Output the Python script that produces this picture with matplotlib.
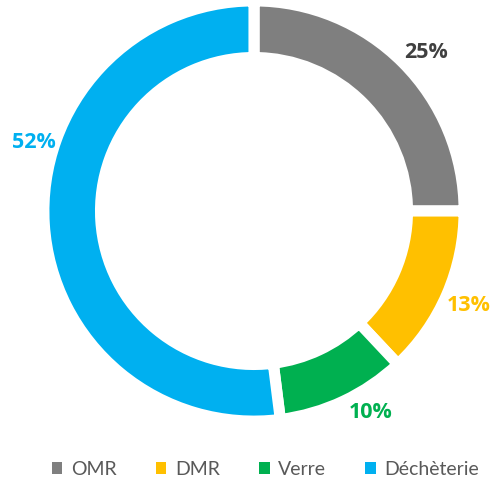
import numpy as np
import matplotlib.pyplot as plt
from matplotlib.patches import Patch

categories = ['OMR', 'DMR', 'Verre', 'Déchèterie']
values = [25, 13, 10, 52]
colors = ['#7F7F7F', '#FFC000', '#00B050', '#00B0F0']
label_colors = ['#404040', '#FFC000', '#00B050', '#00B0F0']
# angle nudges (deg) Excel applied to the labels
label_shift = [-2, -0.5, 4.5, -21]
label_dist = [1.14, 1.14, 1.14, 1.12]

plt.rcParams['font.family'] = ['Lato', 'DejaVu Sans']

fig = plt.figure(figsize=(4.93, 4.84), dpi=100)
cx, cy, r = 254, 211, 206
ax = fig.add_axes([(cx - r) / 493, (484 - cy - r) / 484, 2 * r / 493, 2 * r / 484])

wedges, _ = ax.pie(values, colors=colors, startangle=90, counterclock=False,
                   radius=1.02, wedgeprops=dict(width=0.275, edgecolor='white', linewidth=8),
                   frame=True)
ax.set_xlim(-1, 1)
ax.set_ylim(-1, 1)
ax.set_aspect('equal')
ax.axis('off')

total = sum(values)
start = 90
for v, c, s, d in zip(values, label_colors, label_shift, label_dist):
    mid = start - v / total * 360 / 2 + s
    start -= v / total * 360
    a = np.deg2rad(mid)
    ax.text(d * np.cos(a), 0.99 * d * np.sin(a), f'{v}%', color=c, fontsize=15.5,
            fontweight='bold', family=['Open Sans', 'DejaVu Sans'],
            ha='center', va='center')

handles = [Patch(facecolor=c, edgecolor='none') for c in colors]
fig.legend(handles, categories, loc='center left', bbox_to_anchor=(0.105, 0.03),
           ncol=4, frameon=False, fontsize=14, handlelength=0.55, handleheight=0.55,
           handletextpad=0.45, columnspacing=2.0, borderpad=0, borderaxespad=0,
           labelcolor='#595959')

fig.savefig('out.png', dpi=100)
